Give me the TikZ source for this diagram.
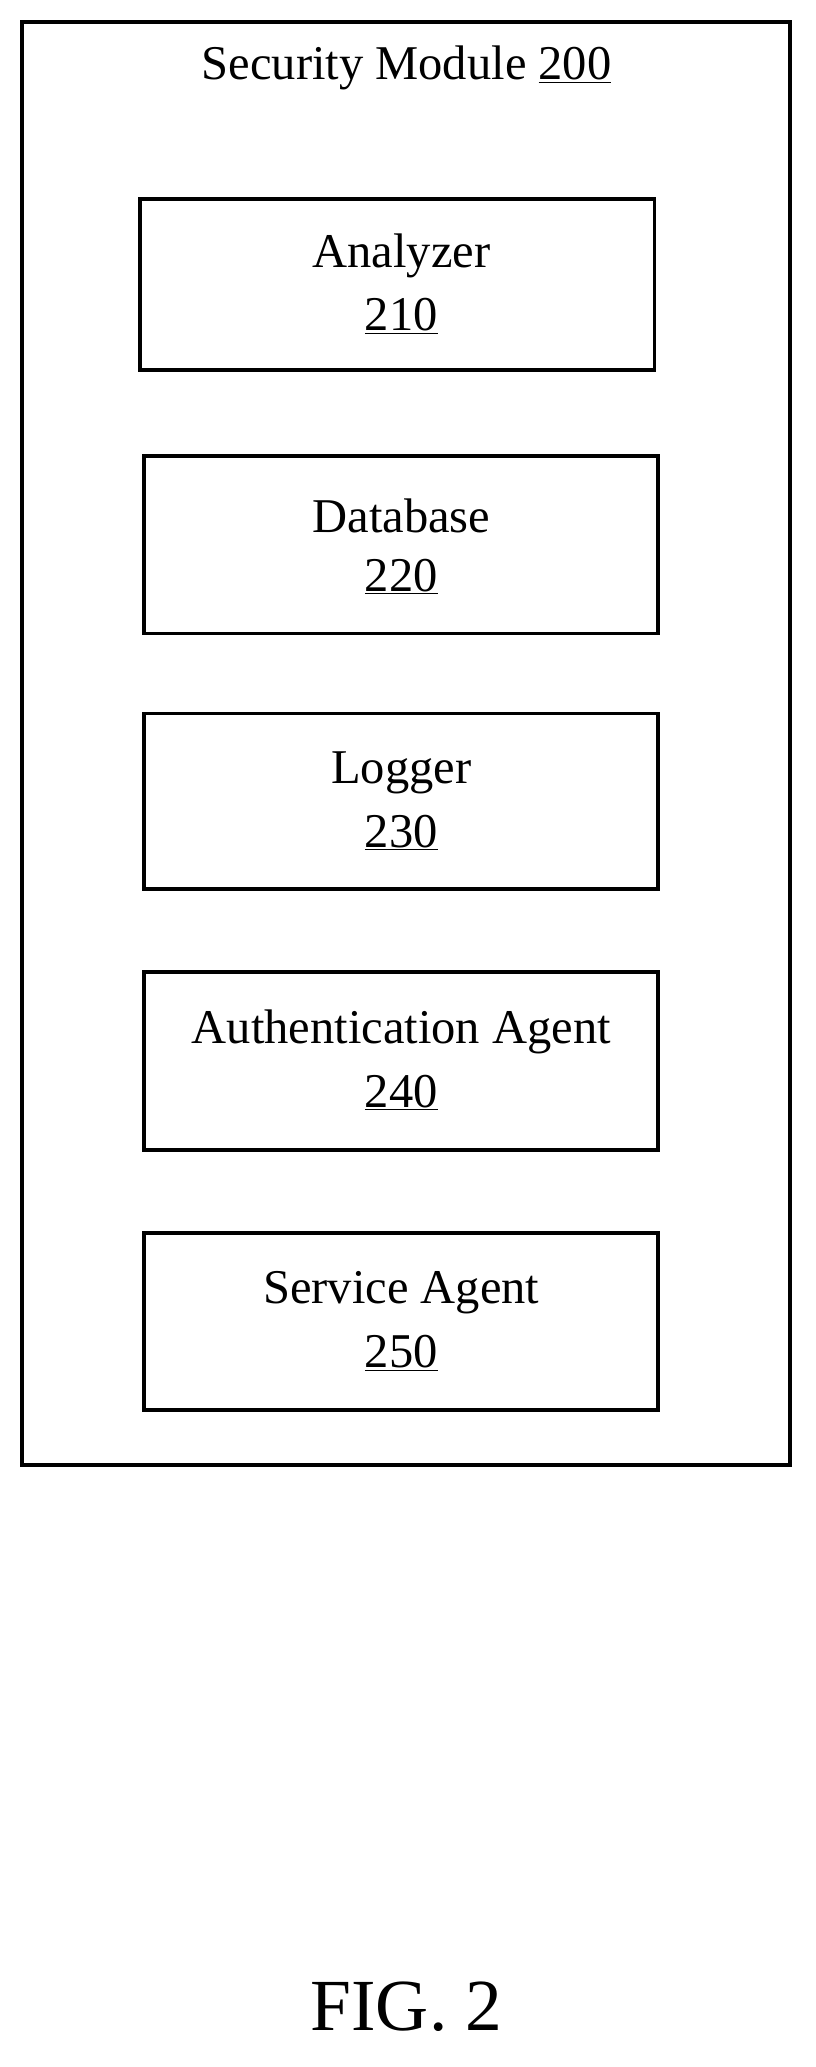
\documentclass[tikz,border=0pt]{standalone}
\usepackage{fontspec}
\setmainfont{Liberation Serif}
\begin{document}
\begin{tikzpicture}[x=1pt,y=-1pt,
 box/.style={draw,line width=3pt},
 lab/.style={font=\fontsize{37}{37}\selectfont,anchor=center}]
\useasboundingbox (0,0) rectangle (622,1576);
\draw[box] (17,17) rectangle (602,1117);
\node[lab] (title) at (310,52) {Security Module \underline{200}};
\foreach \n/\t/\num/\ya/\yb/\xa in {a/Analyzer/210/152/282/107,d/Database/220/348/483/110,l/Logger/230/544/678/110,u/Authentication Agent/240/741/877/110,s/Service Agent/250/940/1075/110}{
 \draw[box] (\xa,\ya) rectangle (\xa+392,\yb);
 \node[lab] (\n1) at (306,{(\ya+\yb)/2-22}) {\t};
 \node[lab] (\n2) at (306,{(\ya+\yb)/2+24}) {\underline{\num}};
}
\node[font=\fontsize{56}{56}\selectfont] (fig) at (310,1530) {FIG. 2};
\end{tikzpicture}
\end{document}
